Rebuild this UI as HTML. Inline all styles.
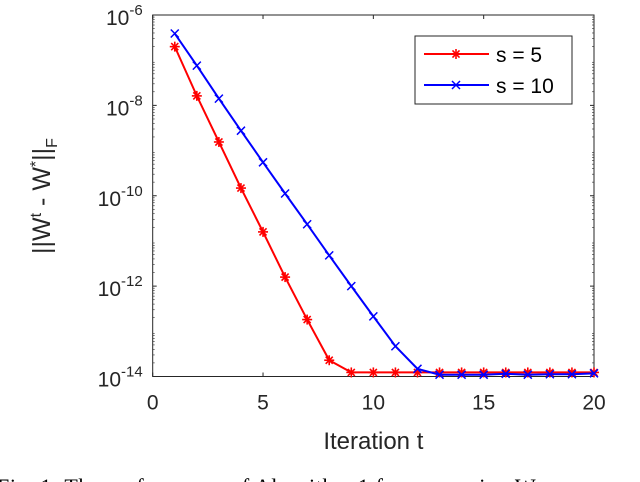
<!DOCTYPE html>
<html><head><meta charset="utf-8"><style>
html,body{margin:0;padding:0;background:#fff;width:640px;height:482px;overflow:hidden;position:relative}
svg{position:absolute;left:0;top:0}
.cap{position:absolute;left:-3px;top:474px;font-family:"Liberation Serif",serif;font-size:22px;white-space:nowrap;color:#000;letter-spacing:0.6px}
</style></head><body>
<svg id="chart" width="640" height="482" font-family="Liberation Sans, sans-serif"></svg>
<div class="cap">Fig. 1: The performance of Algorithm 1 for recovering W</div>
<script>
const iterations=[1,2,3,4,5,6,7,8,9,10,11,12,13,14,15,16,17,18,19,20];
const s5Log=[-6.70,-7.79,-8.81,-9.83,-10.80,-11.80,-12.74,-13.64,-13.91,-13.91,-13.91,-13.91,-13.91,-13.91,-13.91,-13.91,-13.91,-13.91,-13.91,-13.91];
const s10Log=[-6.41,-7.12,-7.85,-8.56,-9.26,-9.95,-10.63,-11.32,-12.00,-12.67,-13.33,-13.83,-13.96,-13.96,-13.96,-13.94,-13.96,-13.95,-13.95,-13.93];
const xTicks=[0,5,10,15,20];
const yTicks=[-6,-8,-10,-12,-14];
const NS='http://www.w3.org/2000/svg';
const svg=document.getElementById('chart');
const L=152.7,R=594,T=15,B=376.5;
const xs=v=>L+(v-0)/(20-0)*(R-L);
const ys=v=>T+(-6-v)/8*(B-T);
function el(t,a,p){const e=document.createElementNS(NS,t);for(const k in a)e.setAttribute(k,a[k]);(p||svg).appendChild(e);return e;}
let e;
e=el('rect',{x:L,y:T,width:R-L,height:B-T,fill:'#fff',stroke:'#262626','stroke-width':1});


xTicks.forEach(v=>{const x=xs(v);
 el('line',{x1:x,x2:x,y1:B,y2:B-4,stroke:'#262626'});el('line',{x1:x,x2:x,y1:T,y2:T+4,stroke:'#262626'});
 const t=el('text',{x:x,y:B+33,'font-size':21,'text-anchor':'middle',fill:'#262626'});t.textContent=v;
 
 
});
yTicks.forEach(v=>{const y=ys(v);
 el('line',{x1:L,x2:L+4,y1:y,y2:y,stroke:'#262626'});el('line',{x1:R,x2:R-4,y1:y,y2:y,stroke:'#262626'});
 const t=el('text',{x:L-10,y:y+10,'font-size':21,'text-anchor':'end',fill:'#262626'});
 const a=el('tspan',{},t);a.textContent='10';
 const b=el('tspan',{dy:-10,'font-size':15},t);b.textContent=String(v);
 
 
});
for(let d=-14;d<-6;d++){for(let m=2;m<10;m++){const y=ys(d+Math.log10(m));
 el('line',{x1:L,x2:L+2,y1:y,y2:y,stroke:'#262626','stroke-width':0.6});el('line',{x1:R,x2:R-2,y1:y,y2:y,stroke:'#262626','stroke-width':0.6});}}
e=el('text',{x:(L+R)/2,y:449,'font-size':24,'text-anchor':'middle',fill:'#262626'});e.textContent='Iteration t';


e=el('text',{transform:'translate(50,196) rotate(-90)','font-size':25,'text-anchor':'middle',fill:'#262626'});
e.innerHTML='||W<tspan dy="-9" font-size="16">t</tspan><tspan dy="9"> - W</tspan><tspan dy="-9" font-size="16">*</tspan><tspan dy="9">||</tspan><tspan dy="7" font-size="16">F</tspan>';


function star(g,x,y,c){for(let k=0;k<4;k++){const a=k*Math.PI/4;el('line',{x1:x-5*Math.cos(a),y1:y-5*Math.sin(a),x2:x+5*Math.cos(a),y2:y+5*Math.sin(a),stroke:c,'stroke-width':1.6},g);}}
function cross(g,x,y,c){el('path',{d:`M${x-4},${y-4}L${x+4},${y+4}M${x-4},${y+4}L${x+4},${y-4}`,stroke:c,'stroke-width':1.5},g);}
function series(data,c,mk,name){const g=el('g',{});
 
 
 el('polyline',{points:iterations.map((t,i)=>xs(t)+','+ys(data[i])).join(' '),fill:'none',stroke:c,'stroke-width':2},g);
 iterations.forEach((t,i)=>mk(g,xs(t),ys(data[i]),c));}
series(s5Log,'#ff0000',star,'series-s5');
series(s10Log,'#0000ff',cross,'series-s10');
const lg=el('g',{});


el('rect',{x:415,y:36,width:157,height:68,fill:'#fff',stroke:'#262626'},lg);
el('line',{x1:424,x2:489,y1:54,y2:54,stroke:'#ff0000','stroke-width':2},lg);star(lg,456,54,'#ff0000');
el('line',{x1:424,x2:489,y1:85,y2:85,stroke:'#0000ff','stroke-width':2},lg);cross(lg,456,85,'#0000ff');
e=el('text',{x:496,y:62,'font-size':21,fill:'#000'},lg);e.textContent='s = 5';
e=el('text',{x:496,y:93,'font-size':21,fill:'#000'},lg);e.textContent='s = 10';
</script>
</body></html>
